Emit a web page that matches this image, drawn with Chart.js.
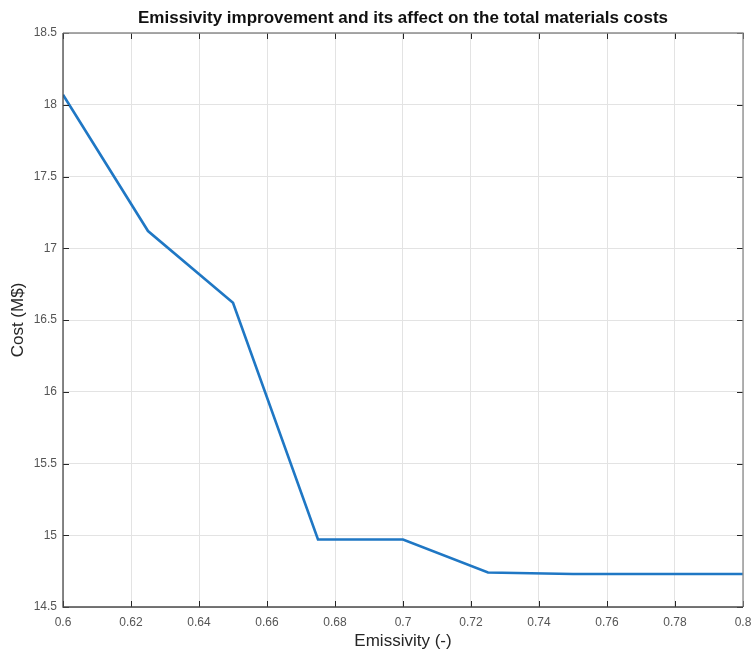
<!DOCTYPE html>
<html>
<head>
<meta charset="utf-8">
<script src="https://cdn.jsdelivr.net/npm/chart.js@4/dist/chart.umd.min.js"></script>
<style>
  html, body { margin: 0; padding: 0; background: #fff; }
  #wrap { width: 751px; height: 650px; }
</style>
</head>
<body>
<div id="wrap"><canvas id="costChart" width="751" height="650"></canvas></div>
<script>
// emissivity vs. total materials cost
const emissivity = [0.6, 0.625, 0.65, 0.675, 0.7, 0.725, 0.75, 0.775, 0.8];
const costMillions = [18.07, 17.12, 16.62, 14.97, 14.97, 14.74, 14.73, 14.73, 14.73];
const xTicks = [0.6, 0.62, 0.64, 0.66, 0.68, 0.7, 0.72, 0.74, 0.76, 0.78, 0.8];
const yTicks = [14.5, 15, 15.5, 16, 16.5, 17, 17.5, 18, 18.5];

const FONT = "'Liberation Sans', Arial, Helvetica, sans-serif";
const TICK_COLOR = "#555";

// ================= FRAME + TITLE =================
const framePlugin = {
  id: "frame",
  afterDraw(chart) {
    const { ctx, chartArea: a, scales } = chart;
    ctx.save();

    // inward tick marks on all four sides
    ctx.strokeStyle = "#262626";
    ctx.lineWidth = 1;
    ctx.beginPath();
    xTicks.forEach(v => {
      const px = Math.round(scales.x.getPixelForValue(v)) + 0.5;
      ctx.moveTo(px, a.bottom); ctx.lineTo(px, a.bottom - 6);
      ctx.moveTo(px, a.top); ctx.lineTo(px, a.top + 6);
    });
    yTicks.forEach(v => {
      const py = Math.round(scales.y.getPixelForValue(v)) + 0.5;
      ctx.moveTo(a.left, py); ctx.lineTo(a.left + 6, py);
      ctx.moveTo(a.right, py); ctx.lineTo(a.right - 6, py);
    });
    ctx.stroke();

    // box: darker axes on left/bottom, lighter on top/right
    ctx.lineWidth = 1.3;
    ctx.strokeStyle = "#8c8c8c";
    ctx.beginPath();
    ctx.moveTo(a.left, a.top); ctx.lineTo(a.right, a.top); ctx.lineTo(a.right, a.bottom);
    ctx.stroke();
    ctx.strokeStyle = "#4a4a4a";
    ctx.beginPath();
    ctx.moveTo(a.left, a.top); ctx.lineTo(a.left, a.bottom); ctx.lineTo(a.right, a.bottom);
    ctx.stroke();

    // title
    ctx.fillStyle = "#111";
    ctx.font = "bold 17px " + FONT;
    ctx.textAlign = "center";
    ctx.textBaseline = "middle";
    ctx.fillText("Emissivity improvement and its affect on the total materials costs", (a.left + a.right) / 2, 18);

    // axis titles
    ctx.fillStyle = "#262626";
    ctx.font = "17px " + FONT;
    ctx.fillText("Emissivity (-)", (a.left + a.right) / 2, 641);
    ctx.translate(18, (a.top + a.bottom) / 2);
    ctx.rotate(-Math.PI / 2);
    ctx.fillText("Cost (M$)", 0, 0);
    ctx.restore();
  }
};

// ================= CHART =================
const ctx = document.getElementById("costChart").getContext("2d");
new Chart(ctx, {
  type: "line",
  data: {
    datasets: [{
      data: emissivity.map((x, i) => ({ x: x, y: costMillions[i] })),
      borderColor: "#1f77c4",
      borderWidth: 2.6,
      pointRadius: 0,
      tension: 0,
      fill: false
    }]
  },
  options: {
    responsive: false,
    animation: false,
    layout: { padding: { top: 33, right: 8, left: 0, bottom: 0 } },
    plugins: { legend: { display: false }, tooltip: { enabled: false }, title: { display: false } },
    scales: {
      x: {
        type: "linear",
        min: 0.6,
        max: 0.8,
        afterBuildTicks: scale => { scale.ticks = xTicks.map(v => ({ value: v })); },
        afterFit: scale => {
          scale.height = 43;
          scale.paddingLeft = 0;
          scale.paddingRight = 0;
        },
        grid: { color: "#e3e3e3", drawTicks: false },
        border: { display: false },
        ticks: {
          padding: 8,
          color: TICK_COLOR,
          font: { family: FONT, size: 12 },
          maxRotation: 0,
          autoSkip: false,
          callback: v => String(Number(v.toFixed(2)))
        }
      },
      y: {
        min: 14.5,
        max: 18.5,
        afterBuildTicks: scale => { scale.ticks = yTicks.map(v => ({ value: v })); },
        afterFit: scale => {
          scale.width = 63;
          scale.paddingTop = 0;
          scale.paddingBottom = 0;
        },
        grid: { color: "#e3e3e3", drawTicks: false },
        border: { display: false },
        ticks: {
          padding: 6,
          color: TICK_COLOR,
          font: { family: FONT, size: 12 },
          autoSkip: false,
          callback: v => String(Number(v.toFixed(1)))
        }
      }
    }
  },
  plugins: [framePlugin]
});
</script>
</body>
</html>
